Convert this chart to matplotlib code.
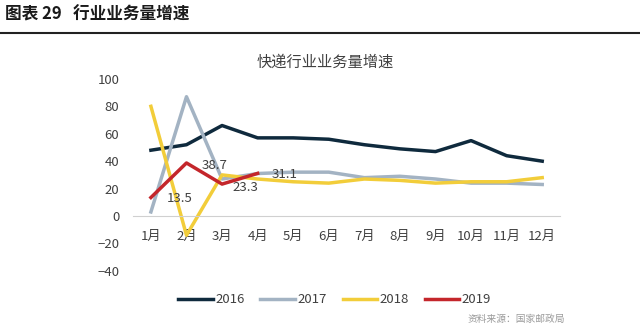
import matplotlib.pyplot as plt
from matplotlib.lines import Line2D

plt.rcParams['font.family'] = ['Noto Sans CJK SC', 'DejaVu Sans']

months = ["1月", "2月", "3月", "4月", "5月", "6月", "7月", "8月", "9月", "10月", "11月", "12月"]
y2016 = [48, 52, 66, 57, 57, 56, 52, 49, 47, 55, 44, 40]
y2017 = [3, 87, 27, 31, 32, 32, 28, 29, 27, 24, 24, 23]
y2018 = [80, -14, 30, 27, 25, 24, 27, 26, 24, 25, 25, 28]
y2019 = [13.5, 38.7, 23.3, 31.1]
yticks = [100, 80, 60, 40, 20, 0, -20, -40]

colors = {"2016": "#0f2a3d", "2017": "#a3b3c3", "2018": "#f2cd3a", "2019": "#c4262b"}

fig = plt.figure(figsize=(6.4, 3.26), dpi=100)

# header
fig.text(0.008, 0.955, "图表 29   行业业务量增速", fontsize=12, fontweight="bold",
         color="#1a1a1a", va="center", ha="left")
fig.add_artist(Line2D([0, 1], [0.9, 0.9], color="#222222", lw=1.5))

ax = fig.add_axes([0.208, 0.169, 0.667, 0.589])
x = list(range(1, 13))
ax.plot(x, y2016, color=colors["2016"], lw=2.5, label="2016")
ax.plot(x, y2017, color=colors["2017"], lw=2.5, label="2017")
ax.plot(x, y2018, color=colors["2018"], lw=2.5, label="2018")
ax.plot(x[:len(y2019)], y2019, color=colors["2019"], lw=2.5, label="2019")

# data labels, placed as in the reference
lbl_pos = [(1.82, 13), (2.8, 37), (3.65, 21), (4.75, 30)]
for (lx, ly), v in zip(lbl_pos, y2019):
    ax.text(lx, ly, f"{v}", fontsize=9.5, color="#404040", ha="center", va="center")

ax.set_xlim(0.5, 12.5)
ax.set_ylim(-40, 100)
ax.set_yticks(yticks)
ax.set_xticks(x)
ax.set_xticklabels(months)
for s in ["top", "right", "left"]:
    ax.spines[s].set_visible(False)
ax.spines["bottom"].set_position(("data", 0))
ax.spines["bottom"].set_color("#d0d0d0")
ax.tick_params(length=0, labelsize=9.5, colors="#404040")
ax.tick_params(axis="x", pad=10)
ax.tick_params(axis="y", pad=10)

fig.text(0.508, 0.81, "快递行业业务量增速", fontsize=11, color="#404040",
         ha="center", va="center")

fig.legend(loc="center", bbox_to_anchor=(0.523, 0.08), ncol=4, frameon=False,
           fontsize=9.5, handlelength=2.6, columnspacing=1.2, handletextpad=0.2,
           labelcolor="#404040")

fig.text(0.73, 0.005, "资料来源：国家邮政局", fontsize=7, color="#9a9a9a", va="bottom")

fig.savefig("out.png", dpi=100)
